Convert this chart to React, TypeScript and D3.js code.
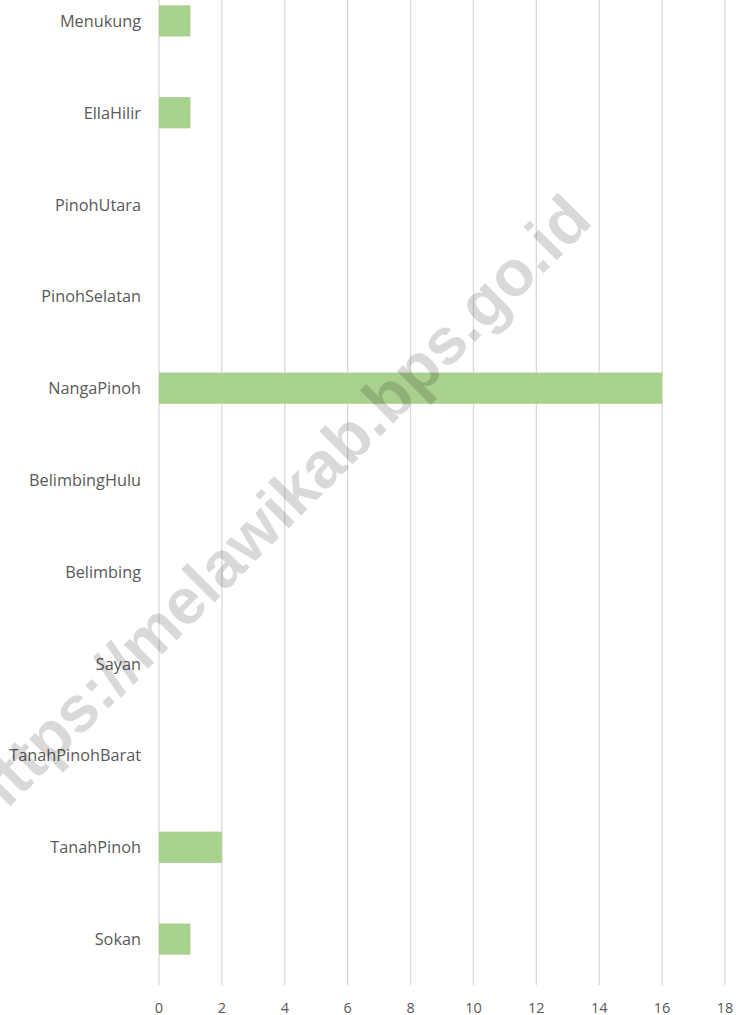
import React from "react";
import * as d3 from "d3";

const categories = [
  "Menukung",
  "EllaHilir",
  "PinohUtara",
  "PinohSelatan",
  "NangaPinoh",
  "BelimbingHulu",
  "Belimbing",
  "Sayan",
  "TanahPinohBarat",
  "TanahPinoh",
  "Sokan",
];
const values = [1, 1, 0, 0, 16, 0, 0, 0, 0, 2, 1];
const xTicks = [0, 2, 4, 6, 8, 10, 12, 14, 16, 18];
const watermark = "https://melawikab.bps.go.id";

const W = 736;
const H = 1015;

export default function App() {
  const x = d3.scaleLinear().domain([0, 18]).range([159, 725]);
  const y = d3
    .scaleBand<string>()
    .domain(categories)
    .range([-25, 985])
    .paddingInner(0.66)
    .paddingOuter(0.33);

  const font = "'Open Sans', 'DejaVu Sans', sans-serif";
  return (
    <svg
      width={W}
      height={H}
      style={{ position: "absolute", left: 0, top: 0, background: "#fff" }}
    >
      {xTicks.map((t) => (
        <line
          key={"g" + t}
          x1={x(t)}
          x2={x(t)}
          y1={0}
          y2={985}
          stroke="#d9d9d9"
          strokeWidth={1.3}
        />
      ))}
      {categories.map((c, i) => (
        <rect
          key={"b" + c}
          x={x(0)}
          y={y(c)!}
          width={x(values[i]) - x(0)}
          height={y.bandwidth()}
          fill="#a9d18e"
        />
      ))}
      {categories.map((c) => (
        <text
          key={"l" + c}
          x={141}
          y={y(c)! + y.bandwidth() / 2}
          textAnchor="end"
          dominantBaseline="central"
          fontFamily={font}
          fontSize={16.3}
          fill="#595959"
        >
          {c}
        </text>
      ))}
      {xTicks.map((t) => (
        <text
          key={"t" + t}
          x={x(t)}
          y={1007}
          textAnchor="middle"
          dominantBaseline="central"
          fontFamily={font}
          fontSize={14.5}
          fill="#595959"
        >
          {t}
        </text>
      ))}
      <text
        transform="translate(277,508) rotate(-45)"
        textAnchor="middle"
        dominantBaseline="central"
        fontFamily="'Liberation Sans', Arial, sans-serif"
        fontWeight="bold"
        fontSize={65}
        fill="#000"
        fillOpacity={0.15}
      >
        {watermark}
      </text>
    </svg>
  );
}
